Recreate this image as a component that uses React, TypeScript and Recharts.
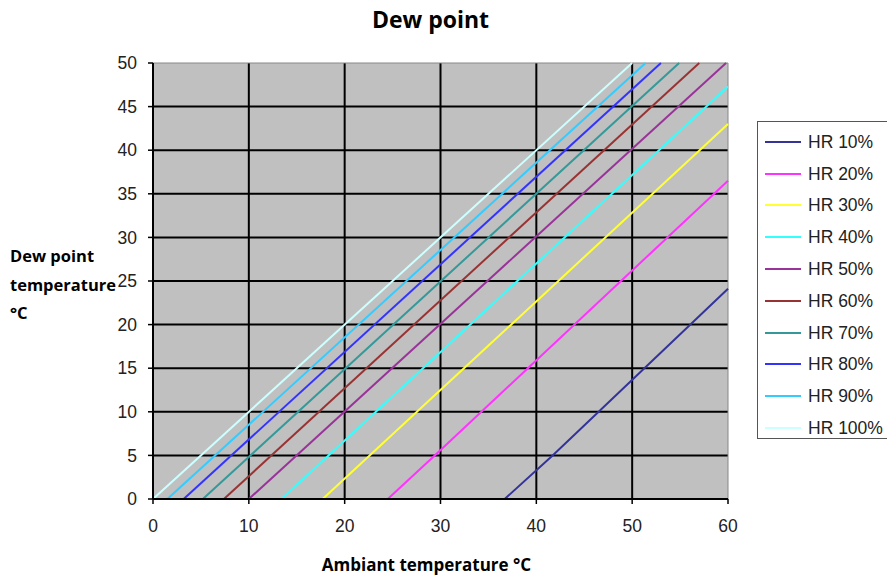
import React from "react";
import {
  LineChart,
  Line,
  XAxis,
  YAxis,
  CartesianGrid,
  ReferenceArea,
} from "recharts";

const seriesNames = ["HR 10%", "HR 20%", "HR 30%", "HR 40%", "HR 50%", "HR 60%", "HR 70%", "HR 80%", "HR 90%", "HR 100%"];
const seriesColors = ["#333399", "#ff33ff", "#ffff33", "#33ffff", "#993399", "#993333", "#339999", "#3333ff", "#33ccff", "#ccffff"];

// [ambient °C, dew point °C] pairs
const hr10 = [[36.7, 0], [41.7, 5], [60, 24.1]];
const hr20 = [[24.5, 0], [29.4, 5], [60, 36.5]];
const hr30 = [[17.7, 0], [60, 43.0]];
const hr40 = [[13.4, 0], [60, 47.3]];
const hr50 = [[10.0, 0], [59.8, 50]];
const hr60 = [[7.4, 0], [57.0, 50]];
const hr70 = [[5.2, 0], [54.9, 50]];
const hr80 = [[3.2, 0], [53.0, 50]];
const hr90 = [[1.5, 0], [51.4, 50]];
const hr100 = [[0, 0], [50, 50]];

const xTicks = [0, 10, 20, 30, 40, 50, 60];
const yTicks = [0, 5, 10, 15, 20, 25, 30, 35, 40, 45, 50];

const allSeries = [hr10, hr20, hr30, hr40, hr50, hr60, hr70, hr80, hr90, hr100].map((s) =>
  s.map(([x, y]) => ({ x, y }))
);

const tickStyle = { fill: "#222", fontSize: 17.5, fontFamily: "Liberation Sans, Arial, sans-serif" };

const LegendBox = () => (
  <div
    style={{
      position: "absolute",
      left: 757,
      top: 121,
      border: "1px solid #555",
      background: "#fff",
      width: 132,
      height: 318,
      boxSizing: "border-box",
      paddingTop: 4,
      fontFamily: "Liberation Sans, Arial, sans-serif",
      fontSize: 17.5,
      color: "#222",
      whiteSpace: "nowrap",
    }}
  >
    {seriesNames.map((n, i) => (
      <div key={n} style={{ display: "flex", alignItems: "center", height: 31.8, lineHeight: "20px" }}>
        <div style={{ width: 36, height: 2, background: seriesColors[i], marginLeft: 7, marginRight: 7, flexShrink: 0 }} />
        <span>{n}</span>
      </div>
    ))}
  </div>
);

export default function App() {
  return (
    <div style={{ position: "absolute", left: 0, top: 0, width: 887, height: 578, background: "#fff", overflow: "hidden" }}>
      <LineChart
        width={887}
        height={578}
        margin={{ top: 63, left: 113, right: 159, bottom: 49 }}
        style={{ position: "absolute", left: 0, top: 0 }}
      >
        <CartesianGrid
          fill="#c0c0c0"
          fillOpacity={1}
          stroke="#000"
          strokeWidth={2}
          verticalValues={[10, 20, 30, 40, 50]}
          horizontalValues={[5, 10, 15, 20, 25, 30, 35, 40, 45]}
        />
        <ReferenceArea x1={0} x2={60} y1={0} y2={50} fill="none" stroke="#888" strokeWidth={1} ifOverflow="visible" />
        <XAxis
          type="number"
          dataKey="x"
          domain={[0, 60]}
          ticks={xTicks}
          interval={0}
          height={30}
          tick={tickStyle}
          tickSize={5}
          tickMargin={16}
          axisLine={{ stroke: "#000", strokeWidth: 2 }}
          tickLine={{ stroke: "#000", strokeWidth: 1.5 }}
        />
        <YAxis
          type="number"
          dataKey="y"
          domain={[0, 50]}
          ticks={yTicks}
          interval={0}
          width={40}
          tick={tickStyle}
          tickSize={5}
          tickMargin={11}
          axisLine={{ stroke: "#000", strokeWidth: 2 }}
          tickLine={{ stroke: "#000", strokeWidth: 1.5 }}
        />
        {allSeries.map((d, i) => (
          <Line
            key={seriesNames[i]}
            data={d}
            dataKey="y"
            name={seriesNames[i]}
            stroke={seriesColors[i]}
            strokeWidth={2}
            dot={false}
            isAnimationActive={false}
            type="linear"
          />
        ))}
      </LineChart>
      <div
        style={{
          position: "absolute",
          left: 0,
          width: 861,
          top: 3,
          textAlign: "center",
          fontFamily: "Open Sans, Noto Sans, sans-serif",
          fontWeight: 700,
          fontSize: 23,
          color: "#000",
        }}
      >
        Dew point
      </div>
      <div
        style={{
          position: "absolute",
          left: 0,
          width: 853,
          top: 553,
          textAlign: "center",
          fontFamily: "Open Sans, Noto Sans, sans-serif",
          fontWeight: 700,
          fontSize: 17,
          color: "#000",
        }}
      >
        Ambiant temperature °C
      </div>
      <div
        style={{
          position: "absolute",
          left: 10,
          top: 242,
          fontFamily: "Open Sans, Noto Sans, sans-serif",
          fontWeight: 700,
          fontSize: 16.5,
          lineHeight: "28.5px",
          color: "#000",
        }}
      >
        Dew point
        <br />
        temperature
        <br />
        °C
      </div>
      <LegendBox />
    </div>
  );
}
